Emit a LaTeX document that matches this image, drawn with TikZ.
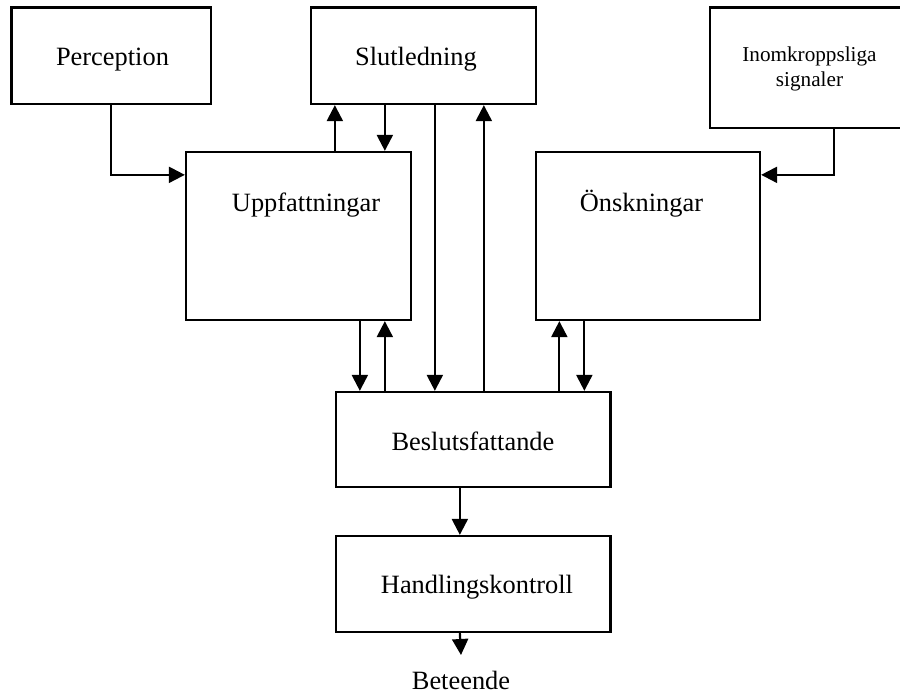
\documentclass[tikz,border=0pt]{standalone}
\usepackage{fontspec}
\setmainfont{Liberation Serif}
\usetikzlibrary{arrows.meta,calc}
\begin{document}
\begin{tikzpicture}[x=1pt,y=-1pt,
  box/.style={draw,line width=2.3pt,minimum width=#1,inner sep=0pt},
  lbl/.style={inner sep=0pt,font=\fontsize{26.4}{30}\selectfont,anchor=base},
  small/.style={inner sep=0pt,align=center,font=\fontsize{21.2}{24.3}\selectfont},
  arr/.style={line width=2.2pt,-{Triangle[length=16pt,width=16pt]}}]
\useasboundingbox (0,0) rectangle (900,693);
\begin{scope}
\clip (0,0) rectangle (900,693);
% boxes
\node[box=199.5pt,minimum height=96.5pt] (perc) at (111.25,55.75) {};
\node[box=225pt,minimum height=96.5pt] (slut) at (423.5,55.75) {};
\node[box=195pt,minimum height=120.5pt] (inom) at (807.5,67.75) {};
\node[box=225pt,minimum height=168pt] (upp) at (298.5,236) {};
\node[box=224pt,minimum height=168pt] (onsk) at (648,236) {};
\node[box=274.5pt,minimum height=95pt] (besl) at (473.25,439.5) {};
\node[box=274.5pt,minimum height=96pt] (hand) at (473.25,584) {};
\end{scope}
% texts
\node[lbl] (percT) at (112.5,65.7) {Perception};
\node[lbl] (slutT) at (416,65.7) {Slutledning};
\node[small] (inomT) at (809.5,68.9) {Inomkroppsliga\\signaler};
\node[lbl] (uppT) at (306,211) {Uppfattningar};
\node[lbl] (onskT) at (641.5,211) {Önskningar};
\node[lbl] (beslT) at (473,450) {Beslutsfattande};
\node[lbl] (handT) at (477,593) {Handlingskontroll};
\node[lbl] (betT) at (461,689) {Beteende};
% inputs
\draw[arr] (perc.south) |- ($(upp.north west)+(0,24)$);
\draw[arr] ($(inom.south west)+(125,0)$) |- ($(onsk.north east)+(0,24)$);
% Uppfattningar <-> Slutledning
\draw[arr] ($(upp.north west)+(150,0)$) coordinate (a1) -- (a1 |- slut.south);
\draw[arr] ($(slut.south west)+(75,0)$) coordinate (a2) -- (a2 |- upp.north);
% Slutledning <-> Beslutsfattande
\draw[arr] ($(slut.south west)+(125,0)$) coordinate (a3) -- (a3 |- besl.north);
\draw[arr] ($(besl.north west)+(149,0)$) coordinate (a4) -- (a4 |- slut.south);
% Uppfattningar <-> Beslutsfattande
\draw[arr] ($(upp.south west)+(175,0)$) coordinate (a5) -- (a5 |- besl.north);
\draw[arr] ($(besl.north west)+(50,0)$) coordinate (a6) -- (a6 |- upp.south);
% Önskningar <-> Beslutsfattande
\draw[arr] ($(besl.north west)+(224.5,0)$) coordinate (a7) -- (a7 |- onsk.south);
\draw[arr] ($(onsk.south west)+(49.5,0)$) coordinate (a8) -- (a8 |- besl.north);
% output chain
\draw[arr] ($(besl.south west)+(125,0)$) coordinate (a9) -- (a9 |- hand.north);
\coordinate (betTop) at (461,655);
\draw[arr] ($(hand.south west)+(125,0)$) -- (betTop);
\end{tikzpicture}
\end{document}
